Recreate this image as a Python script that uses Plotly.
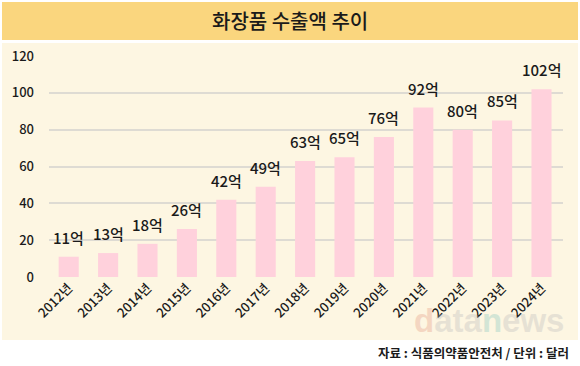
import plotly.graph_objects as go

years = ["2012년", "2013년", "2014년", "2015년", "2016년", "2017년", "2018년",
         "2019년", "2020년", "2021년", "2022년", "2023년", "2024년"]
values = [11, 13, 18, 26, 42, 49, 63, 65, 76, 92, 80, 85, 102]
labels = [f"{v}억" for v in values]
y_ticks = [0, 20, 40, 60, 80, 100, 120]

W, H = 580, 366
ML, MR, MT, MB = 49, 17, 56, 89
PW, PH = W - ML - MR, H - MT - MB

def px(x):
    return (x - ML) / PW

def py(y):
    return (H - MB - y) / PH

FONT = "Noto Sans CJK KR"

fig = go.Figure()
fig.add_trace(go.Bar(
    x=years, y=values,
    marker=dict(color="#FFD1DC", line=dict(width=0)),
    hoverinfo="skip",
))

for yr, v, lab in zip(years, values, labels):
    fig.add_annotation(x=yr, y=v, text=lab, showarrow=False,
                       yanchor="bottom", yshift=7,
                       font=dict(family=FONT, size=15, color="#1a1a1a", weight=500))

shapes = [
    dict(type="rect", xref="paper", yref="paper", layer="below",
         x0=px(2), x1=px(578), y0=py(40), y1=py(2),
         fillcolor="#FAD67E", line=dict(width=0)),
    dict(type="rect", xref="paper", yref="paper", layer="below",
         x0=px(2), x1=px(578), y0=py(340), y1=py(43),
         fillcolor="#FDF6E2", line=dict(width=0)),
]

annos = [
    dict(xref="paper", yref="paper", x=px(290), y=py(21), text="화장품 수출액 추이",
         showarrow=False, xanchor="center", yanchor="middle",
         font=dict(family=FONT, size=20, color="#1a1a1a", weight=500)),
    dict(xref="paper", yref="paper", x=px(571), y=py(352),
         text="<b>자료 : 식품의약품안전처 / 단위 : 달러</b>",
         showarrow=False, xanchor="right", yanchor="middle",
         font=dict(family=FONT, size=12.5, color="#1a1a1a")),
    dict(xref="paper", yref="paper", x=px(566), y=py(320),
         text="<span style='color:#E49C86'>d</span>ata<span style='color:#86C6BE'>n</span>ews",
         showarrow=False, xanchor="right", yanchor="middle", opacity=0.35,
         font=dict(family="Liberation Sans", size=33, color="#BDBDBD", weight=700)),
]
for a in annos:
    fig.add_annotation(**a)

fig.update_layout(
    width=W, height=H,
    margin=dict(l=ML, r=MR, t=MT, b=MB),
    paper_bgcolor="white", plot_bgcolor="rgba(0,0,0,0)",
    shapes=shapes,
    showlegend=False,
    bargap=0.49,
    font=dict(family=FONT, color="#1a1a1a"),
    xaxis=dict(tickangle=-45, tickfont=dict(family=FONT, size=13, color="#1a1a1a", weight=500),
               showgrid=False, zeroline=False, showline=False, ticks=""),
    yaxis=dict(range=[0, 120], tickvals=y_ticks, showgrid=True,
               gridcolor="#DEDBD3", gridwidth=1.5, zeroline=False,
               tickfont=dict(family=FONT, size=13, color="#1a1a1a", weight=500),
               ticklabelstandoff=14, ticks=""),
)

fig.write_html("out.html", config={"displayModeBar": False},
               post_script="document.body.style.margin='0';")
